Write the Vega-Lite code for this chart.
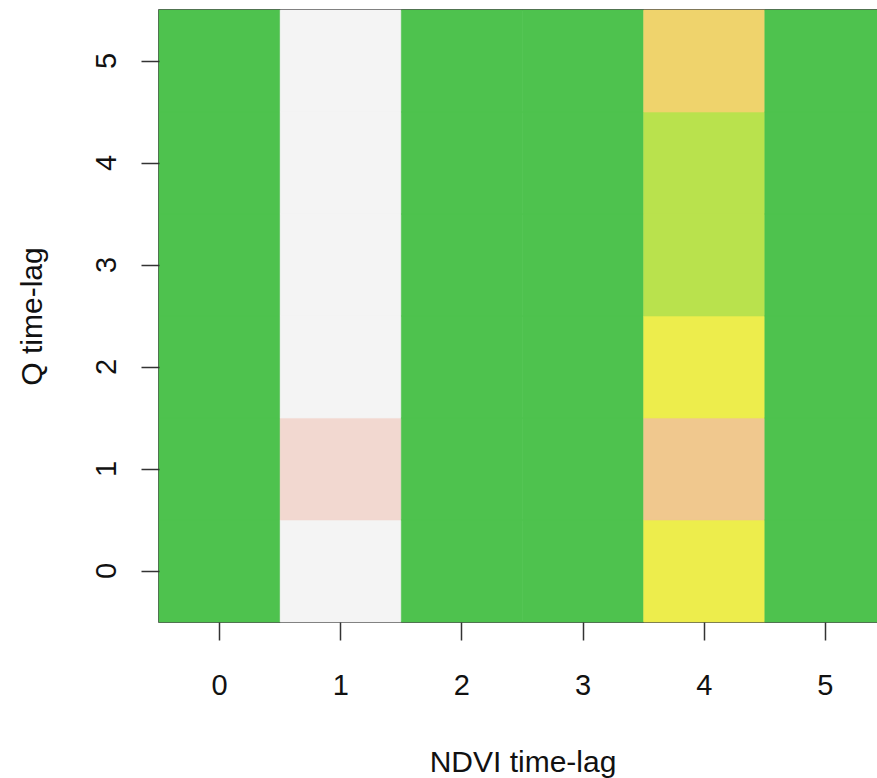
{
  "$schema": "https://vega.github.io/schema/vega-lite/v6.json",
  "autosize": {"type": "none"},
  "padding": {"left": 159, "top": 10, "right": 0, "bottom": 156},
  "width": 727,
  "height": 612,
  "background": "white",
  "config": {
    "view": {"stroke": "#1a1a1a", "strokeWidth": 1.5},
    "font": "Liberation Sans"
  },
  "data": {
    "values": [
      {"ndvi": 0, "q": 0, "cls": "a"}, {"ndvi": 0, "q": 1, "cls": "a"}, {"ndvi": 0, "q": 2, "cls": "a"},
      {"ndvi": 0, "q": 3, "cls": "a"}, {"ndvi": 0, "q": 4, "cls": "a"}, {"ndvi": 0, "q": 5, "cls": "a"},
      {"ndvi": 1, "q": 0, "cls": "b"}, {"ndvi": 1, "q": 1, "cls": "c"}, {"ndvi": 1, "q": 2, "cls": "b"},
      {"ndvi": 1, "q": 3, "cls": "b"}, {"ndvi": 1, "q": 4, "cls": "b"}, {"ndvi": 1, "q": 5, "cls": "b"},
      {"ndvi": 2, "q": 0, "cls": "a"}, {"ndvi": 2, "q": 1, "cls": "a"}, {"ndvi": 2, "q": 2, "cls": "a"},
      {"ndvi": 2, "q": 3, "cls": "a"}, {"ndvi": 2, "q": 4, "cls": "a"}, {"ndvi": 2, "q": 5, "cls": "a"},
      {"ndvi": 3, "q": 0, "cls": "a"}, {"ndvi": 3, "q": 1, "cls": "a"}, {"ndvi": 3, "q": 2, "cls": "a"},
      {"ndvi": 3, "q": 3, "cls": "a"}, {"ndvi": 3, "q": 4, "cls": "a"}, {"ndvi": 3, "q": 5, "cls": "a"},
      {"ndvi": 4, "q": 0, "cls": "e"}, {"ndvi": 4, "q": 1, "cls": "d"}, {"ndvi": 4, "q": 2, "cls": "e"},
      {"ndvi": 4, "q": 3, "cls": "f"}, {"ndvi": 4, "q": 4, "cls": "f"}, {"ndvi": 4, "q": 5, "cls": "g"},
      {"ndvi": 5, "q": 0, "cls": "a"}, {"ndvi": 5, "q": 1, "cls": "a"}, {"ndvi": 5, "q": 2, "cls": "a"},
      {"ndvi": 5, "q": 3, "cls": "a"}, {"ndvi": 5, "q": 4, "cls": "a"}, {"ndvi": 5, "q": 5, "cls": "a"}
    ]
  },
  "mark": {"type": "rect", "strokeWidth": 0.6},
  "encoding": {
    "x": {
      "field": "ndvi", "type": "ordinal",
      "scale": {"paddingInner": 0, "paddingOuter": 0},
      "axis": {
        "title": "NDVI time-lag", "labelAngle": 0, "domain": false, "grid": false,
        "tickSize": 18, "tickWidth": 1.5, "tickColor": "#333",
        "labelFontSize": 29, "labelColor": "#111", "labelBaseline": "alphabetic", "labelPadding": 54,
        "titleFontSize": 30, "titleFontWeight": "normal", "titleColor": "#111",
        "titleBaseline": "alphabetic", "titleY": 149
      }
    },
    "y": {
      "field": "q", "type": "ordinal", "sort": "descending",
      "scale": {"paddingInner": 0, "paddingOuter": 0},
      "axis": {
        "title": "Q time-lag", "labelAngle": 270, "domain": false, "grid": false,
        "tickSize": 18, "tickWidth": 1.5, "tickColor": "#333",
        "labelFontSize": 29, "labelColor": "#111", "labelAlign": "center", "labelBaseline": "alphabetic", "labelPadding": 26,
        "titleFontSize": 30, "titleFontWeight": "normal", "titleColor": "#111",
        "titleAngle": 270, "titleBaseline": "alphabetic", "titleX": -118, "titleY": 306
      }
    },
    "color": {
      "field": "cls", "type": "nominal", "legend": null,
      "scale": {
        "domain": ["a", "b", "c", "d", "e", "f", "g"],
        "range": ["#4EC24E", "#F4F4F4", "#F2D8D0", "#F0C88E", "#EDED4C", "#B9E24D", "#EFD36C"]
      }
    },
    "stroke": {
      "field": "cls", "type": "nominal", "legend": null,
      "scale": {
        "domain": ["a", "b", "c", "d", "e", "f", "g"],
        "range": ["#4EC24E", "#F4F4F4", "#F2D8D0", "#F0C88E", "#EDED4C", "#B9E24D", "#EFD36C"]
      }
    }
  }
}
